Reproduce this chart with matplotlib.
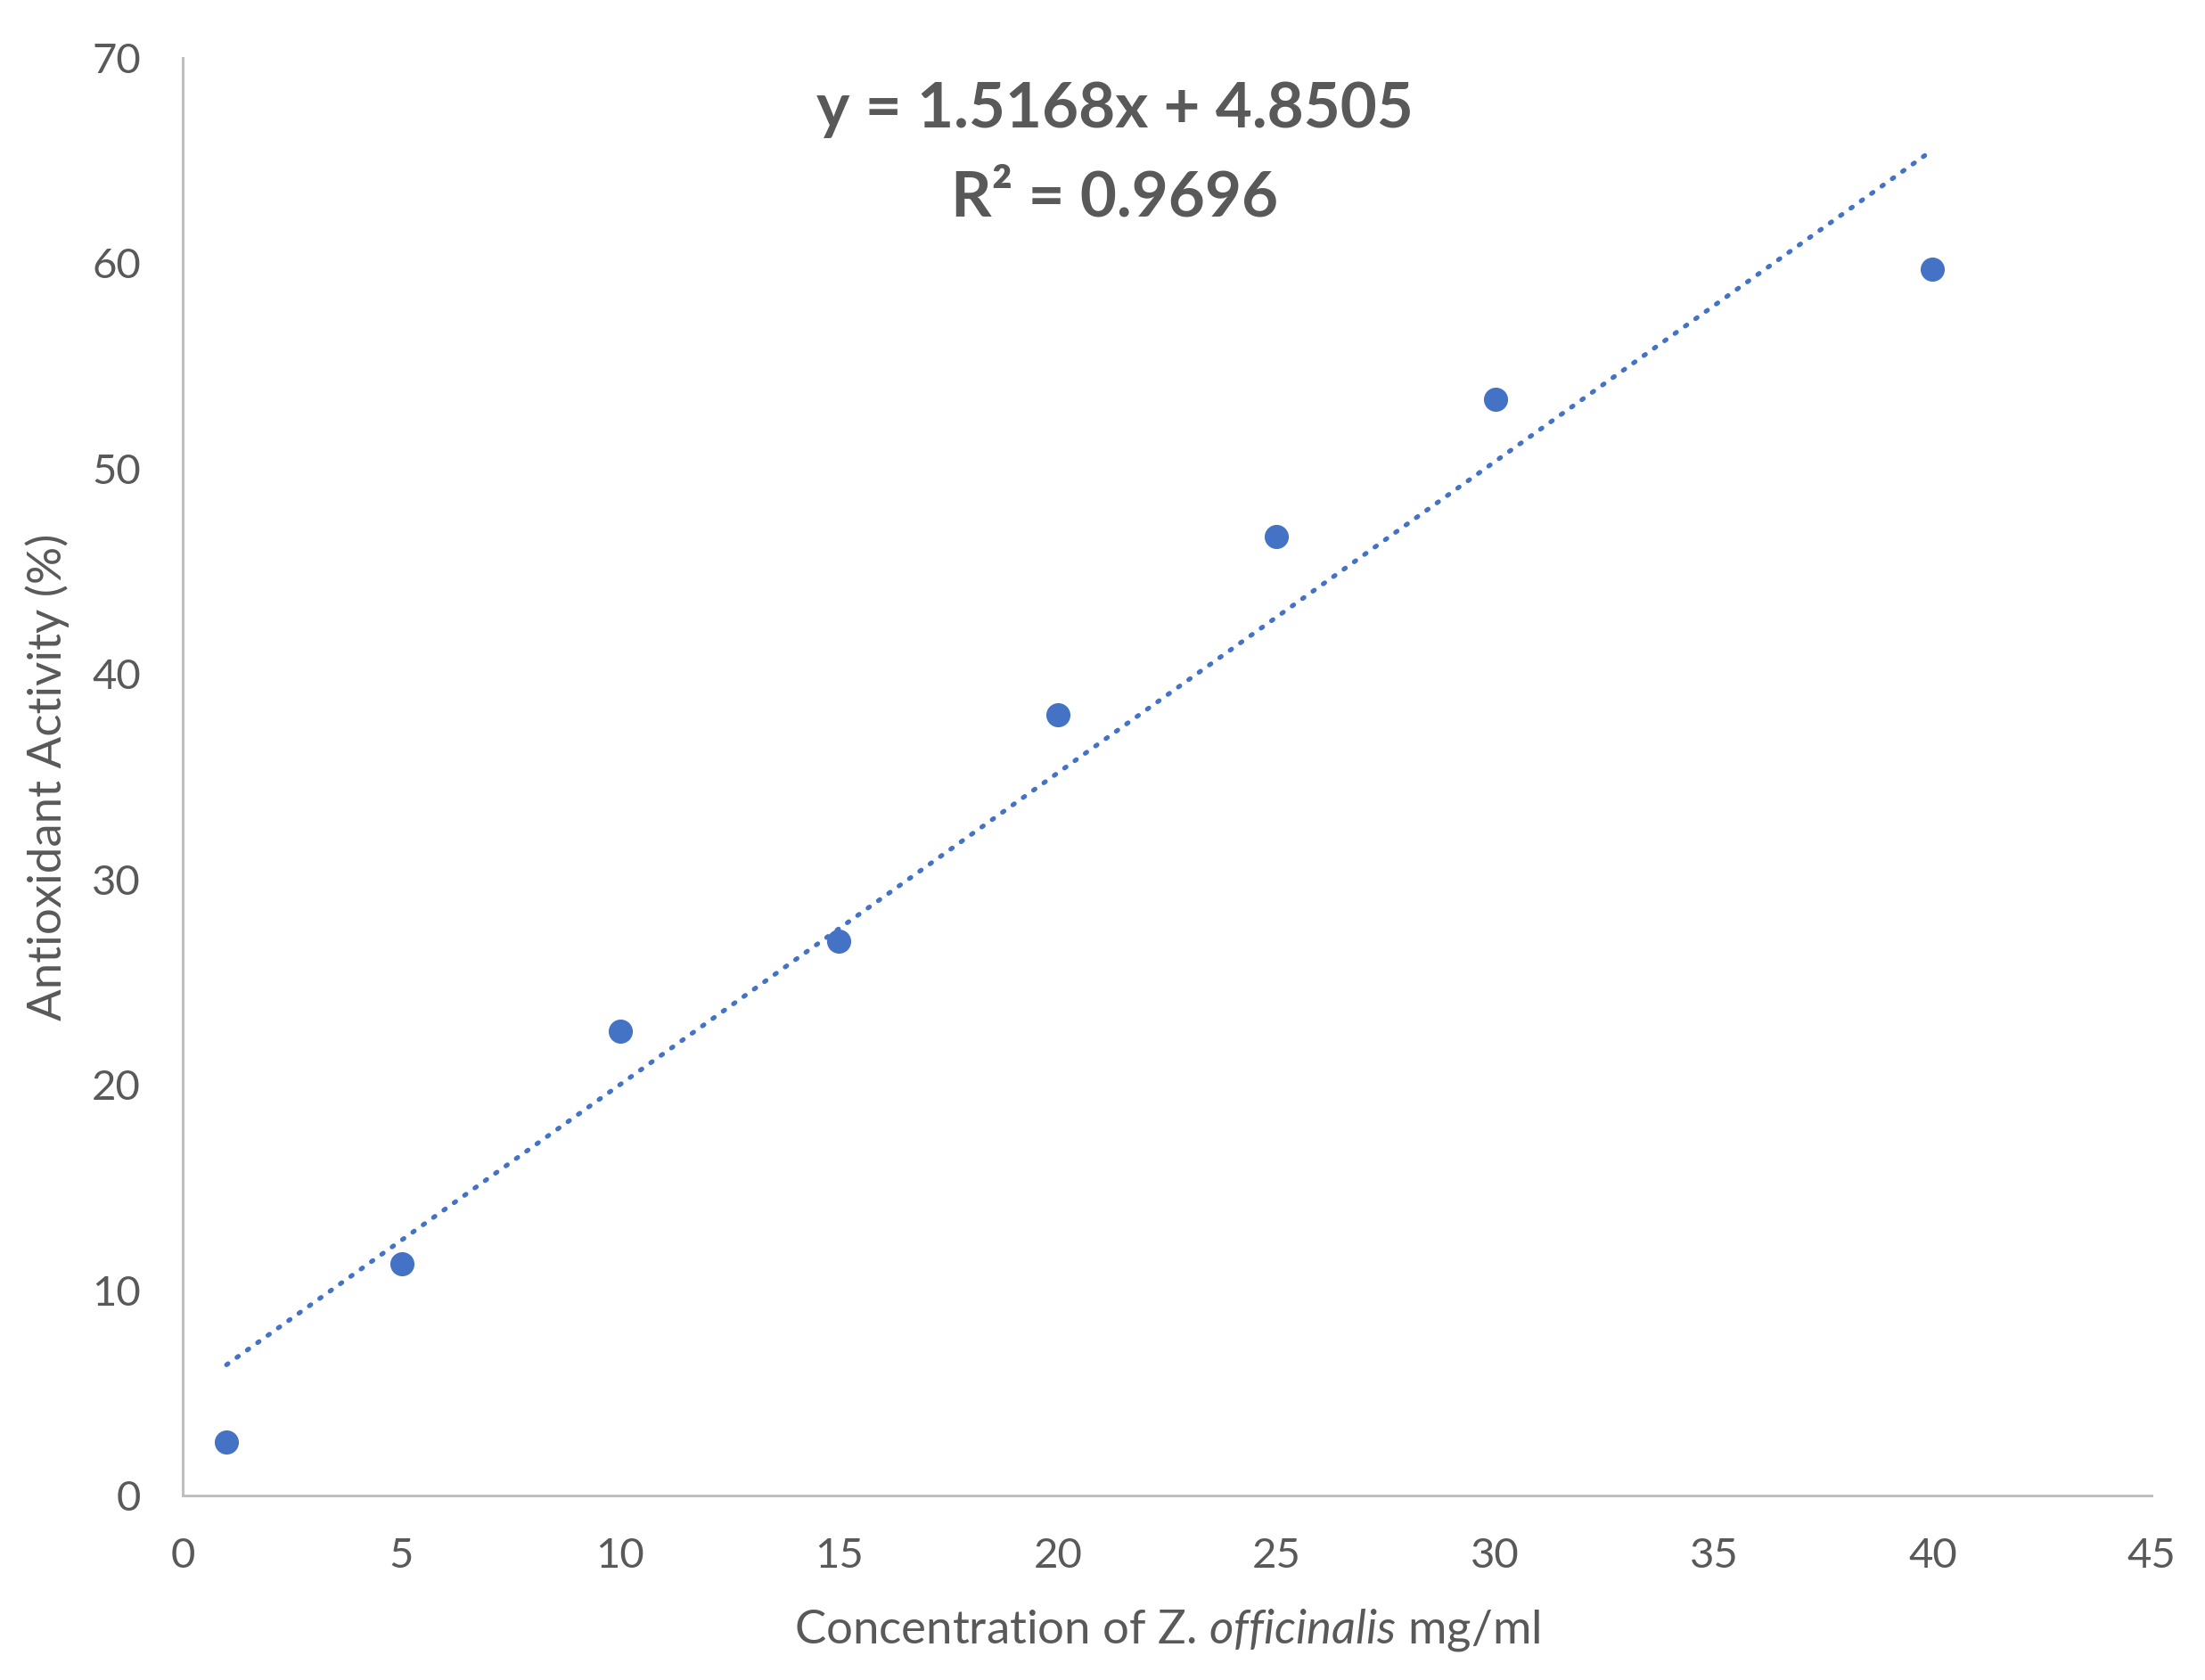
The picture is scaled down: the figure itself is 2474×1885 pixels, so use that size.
import matplotlib
matplotlib.use("Agg")
import numpy as np
import matplotlib.pyplot as plt

# data
concentration = [1, 5, 10, 15, 20, 25, 30, 40]
activity = [2.6, 11.3, 22.6, 27.0, 38.0, 46.7, 53.4, 59.7]
slope = 1.5168
intercept = 4.8505
r_squared = 0.9696
x_ticks = [0, 5, 10, 15, 20, 25, 30, 35, 40, 45]
y_ticks = [0, 10, 20, 30, 40, 50, 60, 70]

plt.rcParams['font.family'] = ['Lato', 'DejaVu Sans']
plt.rcParams['mathtext.fontset'] = 'custom'
plt.rcParams['mathtext.rm'] = 'Lato'
plt.rcParams['mathtext.it'] = 'Lato:italic'

text_color = '#595959'
blue = '#4472C4'

fig = plt.figure(figsize=(12.37, 9.425), dpi=200)
ax = fig.add_axes([0.0829, 0.1098, 0.8928, 0.8557])

ax.scatter(concentration, activity, s=95, color=blue, zorder=3, linewidths=0)

# linear trendline
trend_x = np.array([concentration[0], concentration[-1]])
trend_y = slope * trend_x + intercept
ax.plot(trend_x, trend_y, color=blue, linewidth=1.9,
        linestyle=(0, (0.4, 2.3)), dash_capstyle='round', zorder=2)

ax.text(21.3, 67.5, f"y = {slope}x + {intercept}", ha='center', va='center',
        fontsize=25.5, fontweight='bold', color=text_color)
ax.text(21.3, 63.2, f"R\u00b2 = {r_squared}", ha='center', va='center',
        fontsize=25.5, fontweight='bold', color=text_color)

ax.set_xlim(0, 45)
ax.set_ylim(0, 70)
ax.set_xticks(x_ticks)
ax.set_yticks(y_ticks)
ax.tick_params(length=0, labelsize=17, labelcolor=text_color, pad=17)

for side in ['top', 'right']:
    ax.spines[side].set_visible(False)
for side in ['left', 'bottom']:
    ax.spines[side].set_color('#bfbfbf')
    ax.spines[side].set_linewidth(1.1)

ax.set_xlabel(r"Concentration of Z. $\it{officinalis}$ mg/ml",
              fontsize=19, color=text_color, labelpad=13)
ax.set_ylabel("Antioxidant Activity (%)", fontsize=19, color=text_color,
              labelpad=9)

fig.savefig("out.png", dpi=200, facecolor='white')
